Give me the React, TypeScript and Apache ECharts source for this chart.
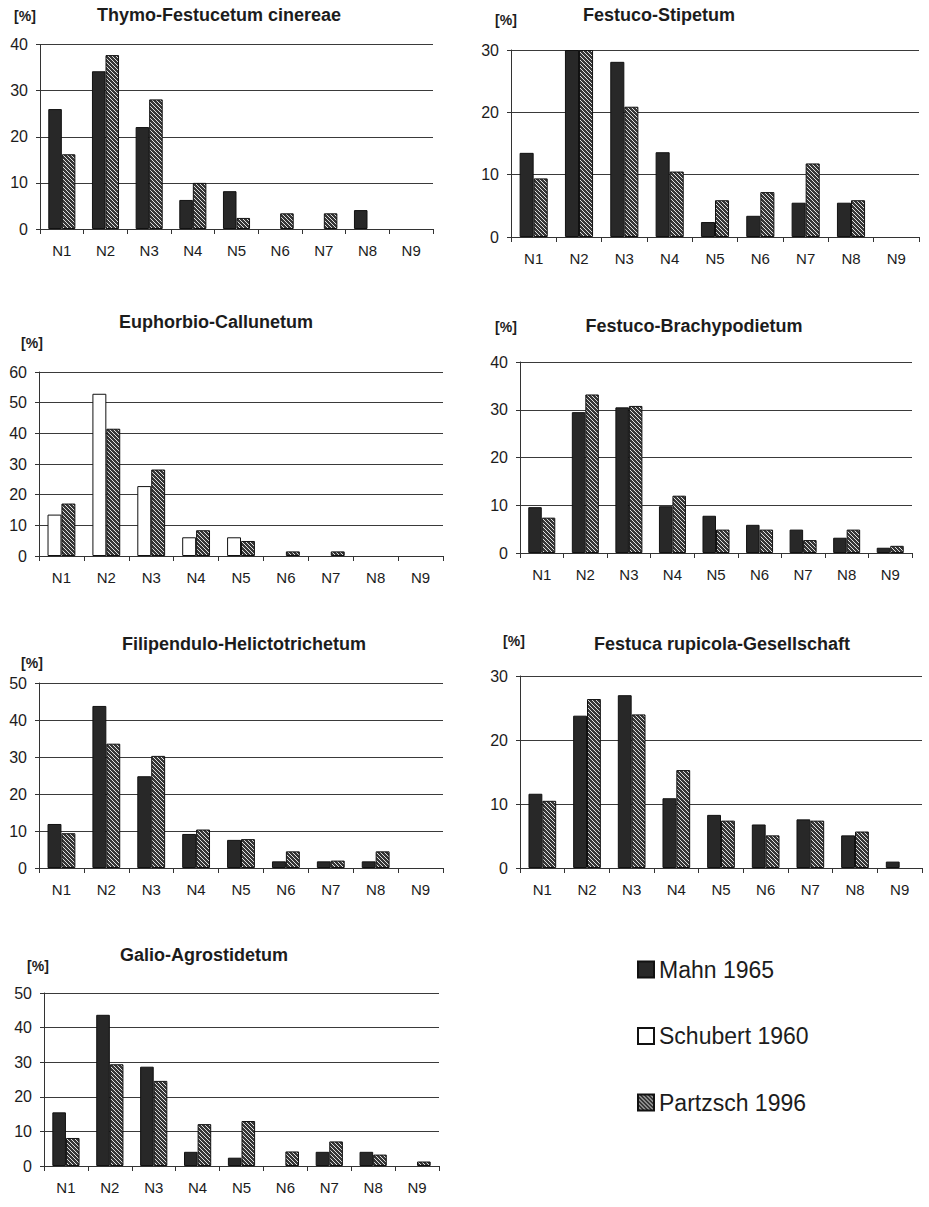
import React, { useEffect, useRef } from "react";
import * as echarts from "echarts";

const categories = ["N1", "N2", "N3", "N4", "N5", "N6", "N7", "N8", "N9"];

const thymoMahn = [26.0, 34.2, 22.1, 6.3, 8.2, 0, 0, 4.1, 0];
const thymoPartzsch = [16.2, 37.7, 28.1, 10.0, 2.4, 3.4, 3.4, 0, 0];

const stipetumMahn = [13.5, 30, 28.1, 13.6, 2.4, 3.4, 5.5, 5.5, 0];
const stipetumPartzsch = [9.4, 30, 20.9, 10.5, 5.9, 7.2, 11.8, 5.9, 0];

const callunetumSchubert = [13.5, 52.9, 22.8, 6.1, 6.1, 0, 0, 0, 0];
const callunetumPartzsch = [17.1, 41.5, 28.2, 8.4, 4.9, 1.5, 1.5, 0, 0];

const brachyMahn = [9.6, 29.5, 30.5, 9.8, 7.8, 5.9, 4.9, 3.2, 1.1];
const brachyPartzsch = [7.4, 33.2, 30.8, 12.0, 4.9, 4.9, 2.7, 4.9, 1.5];

const filipMahn = [11.9, 43.8, 24.8, 9.2, 7.6, 1.8, 1.8, 1.8, 0];
const filipPartzsch = [9.4, 33.6, 30.3, 10.4, 7.8, 4.5, 2.0, 4.5, 0];

const rupicolaMahn = [11.6, 23.8, 27.0, 10.9, 8.3, 6.8, 7.6, 5.1, 1.0];
const rupicolaPartzsch = [10.5, 26.4, 24.0, 15.3, 7.4, 5.1, 7.4, 5.7, 0];

const galioMahn = [15.5, 43.7, 28.7, 4.1, 2.4, 0, 4.1, 4.1, 0];
const galioPartzsch = [8.1, 29.4, 24.6, 12.1, 13.0, 4.2, 7.1, 3.3, 1.3];

const MAHN = "Mahn 1965";
const SCHUBERT = "Schubert 1960";
const PARTZSCH = "Partzsch 1996";

const panels = [
  { title: "Thymo-Festucetum cinereae", first: MAHN, a: thymoMahn, b: thymoPartzsch, max: 40,
    grid: { left: 40, top: 44.5, width: 393, height: 184.5 }, titlePos: [219, 15], unitPos: [25, 16] },
  { title: "Festuco-Stipetum", first: MAHN, a: stipetumMahn, b: stipetumPartzsch, max: 30,
    grid: { left: 511, top: 50, width: 408, height: 187 }, titlePos: [659, 15], unitPos: [506, 20] },
  { title: "Euphorbio-Callunetum", first: SCHUBERT, a: callunetumSchubert, b: callunetumPartzsch, max: 60,
    grid: { left: 39, top: 372, width: 404, height: 184 }, titlePos: [216, 322], unitPos: [32, 343] },
  { title: "Festuco-Brachypodietum", first: MAHN, a: brachyMahn, b: brachyPartzsch, max: 40,
    grid: { left: 520, top: 362, width: 392, height: 191 }, titlePos: [694, 326], unitPos: [506, 327] },
  { title: "Filipendulo-Helictotrichetum", first: MAHN, a: filipMahn, b: filipPartzsch, max: 50,
    grid: { left: 39, top: 683, width: 404, height: 185 }, titlePos: [244, 644], unitPos: [32, 663] },
  { title: "Festuca rupicola-Gesellschaft", first: MAHN, a: rupicolaMahn, b: rupicolaPartzsch, max: 30,
    grid: { left: 520, top: 676, width: 402, height: 192 }, titlePos: [722, 644], unitPos: [514, 641] },
  { title: "Galio-Agrostidetum", first: MAHN, a: galioMahn, b: galioPartzsch, max: 50,
    grid: { left: 44, top: 993, width: 395, height: 173 }, titlePos: [204, 955], unitPos: [38, 966] },
];

const FONT = "Arial, 'Liberation Sans', Helvetica, sans-serif";
const TEXT = "#1c1c1c";

function makeHatch(): HTMLCanvasElement {
  const c = document.createElement("canvas");
  const n = 4;
  c.width = n;
  c.height = n;
  const ctx = c.getContext("2d")!;
  const img = ctx.createImageData(n, n);
  for (let y = 0; y < n; y++) {
    for (let x = 0; x < n; x++) {
      const light = (x - y + n) % n === 0;
      const v = light ? 225 : 55;
      const i = (y * n + x) * 4;
      img.data[i] = v;
      img.data[i + 1] = v;
      img.data[i + 2] = v;
      img.data[i + 3] = 255;
    }
  }
  ctx.putImageData(img, 0, 0);
  return c;
}

export default function App() {
  const ref = useRef<HTMLDivElement>(null);

  useEffect(() => {
    if (!ref.current) return;
    const chart = echarts.init(ref.current, null, { renderer: "svg" });
    const hatch = { image: makeHatch(), repeat: "repeat", imageWidth: 4, imageHeight: 4 } as any;

    const styleFor = (name: string) => {
      if (name === MAHN) return { color: "#282828", borderColor: "#111", borderWidth: 1 };
      if (name === SCHUBERT) return { color: "#ffffff", borderColor: "#111", borderWidth: 1 };
      return { color: hatch, borderColor: "#111", borderWidth: 1 };
    };

    const nz = (arr: number[]) => arr.map((v) => (v === 0 ? null : v));

    const grids: any[] = [];
    const xAxes: any[] = [];
    const yAxes: any[] = [];
    const series: any[] = [];
    const graphics: any[] = [];

    panels.forEach((p, i) => {
      grids.push({ ...p.grid, containLabel: false });
      xAxes.push({
        type: "category",
        gridIndex: i,
        data: categories,
        boundaryGap: true,
        axisLine: { show: true, lineStyle: { color: "#333", width: 1 } },
        axisTick: { show: true, length: 5, interval: 0, lineStyle: { color: "#333" } },
        axisLabel: { fontSize: 15, color: TEXT, fontFamily: FONT, margin: 14, interval: 0 },
        splitLine: { show: false },
      });
      yAxes.push({
        type: "value",
        gridIndex: i,
        min: 0,
        max: p.max,
        interval: 10,
        axisLine: { show: true, lineStyle: { color: "#333", width: 1 } },
        axisTick: { show: true, length: 4, lineStyle: { color: "#333" } },
        axisLabel: { fontSize: 16, color: TEXT, fontFamily: FONT, margin: 12 },
        splitLine: { show: true, lineStyle: { color: "#3a3a3a", width: 1 } },
      });
      series.push({
        type: "bar",
        name: p.first,
        xAxisIndex: i,
        yAxisIndex: i,
        data: nz(p.a),
        barGap: "0%",
        barCategoryGap: "38%",
        itemStyle: styleFor(p.first),
        emphasis: { disabled: true },
      });
      series.push({
        type: "bar",
        name: PARTZSCH,
        xAxisIndex: i,
        yAxisIndex: i,
        data: nz(p.b),
        barGap: "0%",
        barCategoryGap: "38%",
        itemStyle: styleFor(PARTZSCH),
        emphasis: { disabled: true },
      });
      graphics.push({
        type: "text",
        x: p.titlePos[0],
        y: p.titlePos[1],
        style: {
          text: p.title,
          fontSize: 18,
          fontWeight: "bold",
          fontFamily: FONT,
          fill: TEXT,
          textAlign: "center",
          textVerticalAlign: "middle",
        },
      });
      graphics.push({
        type: "text",
        x: p.unitPos[0],
        y: p.unitPos[1],
        style: {
          text: "[%]",
          fontSize: 14,
          fontWeight: "bold",
          fontFamily: FONT,
          fill: TEXT,
          textAlign: "center",
          textVerticalAlign: "middle",
        },
      });
    });

    chart.setOption({
      animation: false,
      backgroundColor: "#ffffff",
      grid: grids,
      xAxis: xAxes,
      yAxis: yAxes,
      series,
      graphic: graphics,
      legend: {
        data: [MAHN, SCHUBERT, PARTZSCH],
        orient: "vertical",
        left: 632,
        top: 953,
        itemWidth: 16,
        itemHeight: 16,
        itemGap: 43.5,
        icon: "rect",
        selectedMode: false,
        textStyle: { fontSize: 23, lineHeight: 23, color: TEXT, fontFamily: FONT, padding: [0, 0, 0, 0] },
      },
    });

    return () => chart.dispose();
  }, []);

  return (
    <div
      ref={ref}
      style={{ position: "absolute", left: 0, top: 0, width: 929, height: 1207, background: "#fff" }}
    />
  );
}
